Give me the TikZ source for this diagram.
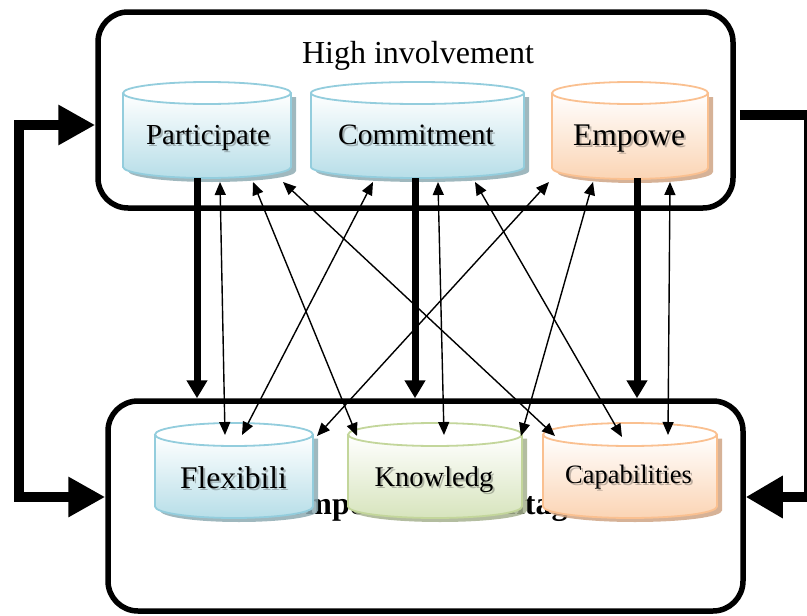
\documentclass[tikz,border=0pt]{standalone}
\usepackage{fontspec}
\setmainfont{Liberation Serif}
\usetikzlibrary{arrows.meta}

% cylinder colours: outline, body, drop shadow
\definecolor{blueline}{HTML}{93CDDD}
\definecolor{bluebody}{HTML}{B7DEE8}
\definecolor{blueshade}{HTML}{8EABB3}
\definecolor{greenline}{HTML}{C3D69B}
\definecolor{greenbody}{HTML}{D7E4BD}
\definecolor{greenshade}{HTML}{A6B28F}
\definecolor{orangeline}{HTML}{FAC090}
\definecolor{orangebody}{HTML}{FBD4B4}
\definecolor{orangeshade}{HTML}{CFA585}

\tikzset{
  frame/.style={draw=black, line width=5.5pt, rounded corners=30pt, inner sep=0pt},
  bracket/.style={line width=10pt, line join=miter},
  feed/.style={line width=7pt, -{Triangle[length=18pt,width=20pt]}},
  link/.style={line width=1.4pt, {Triangle[length=13pt,width=11pt]}-{Triangle[length=13pt,width=11pt]}},
  lbl/.style={anchor=base, inner sep=0pt, text=black},
}

% #1 cx, #2 y of top ellipse centre, #3 x radius, #4 body height, #5 y radius,
% #6 outline colour, #7 body colour, #8 shadow colour
\newcommand\cylshape[8]{%
  \begin{scope}[shift={(#1,#2)}]
    \fill[#8, opacity=0.85] (-#3+5,4) -- (-#3+5,#4+4)
      arc[start angle=180,end angle=360,x radius=#3pt,y radius=#5pt] -- (#3+5,4) -- cycle;
    \shade[top color=white, middle color=#7!45, bottom color=#7] (-#3,0) -- (-#3,#4)
      arc[start angle=180,end angle=360,x radius=#3pt,y radius=#5pt] -- (#3,0) -- cycle;
    \draw[#6, line width=1.8pt] (-#3,0) -- (-#3,#4)
      arc[start angle=180,end angle=360,x radius=#3pt,y radius=#5pt] -- (#3,0);
    \filldraw[fill=white, draw=#6, line width=1.8pt] (0,0) ellipse[x radius=#3pt, y radius=#5pt];
  \end{scope}}

% #1 name, #2 x, #3 baseline y, #4 font size, #5 text (with a soft shadow)
\newcommand\cyllabel[5]{%
  \node[lbl, opacity=0.25, font=\fontsize{#4}{#4}\selectfont] (#1-sh) at (#2+2,#3+2) {#5};
  \node[lbl, font=\fontsize{#4}{#4}\selectfont] (#1) at (#2,#3) {#5};}

\begin{document}
\begin{tikzpicture}[x=1pt,y=-1pt]
\useasboundingbox (0,0) rectangle (807,616);
\clip (0,0) rectangle (807,616);

% the two frames
\node[frame, minimum width=635pt, minimum height=196pt] (high) at (415.5,110) {};
\node[frame, minimum width=635pt, minimum height=210pt] (adv) at (425.5,506) {};

\node[lbl, font=\fontsize{32}{38}\selectfont] (hi) at (418,63) {High involvement};
\node[lbl, font=\bfseries\fontsize{32}{38}\selectfont] (ca) at (424,514) {Competitive advantage};

% cylinders
\cylshape{207}{93}{84}{74}{11}{blueline}{bluebody}{blueshade}
\cylshape{417.5}{93}{106.5}{74}{11}{blueline}{bluebody}{blueshade}
\cylshape{630}{93}{78}{75}{11}{orangeline}{orangebody}{orangeshade}
\cylshape{234}{434.5}{79}{72}{11.5}{blueline}{bluebody}{blueshade}
\cylshape{435}{434.5}{87}{72}{11.5}{greenline}{greenbody}{greenshade}
\cylshape{630}{434.5}{87}{72}{11.5}{orangeline}{orangebody}{orangeshade}

\cyllabel{part}{208}{144}{29}{Participate}
\cyllabel{comm}{416}{144}{29.5}{Commitment}
\cyllabel{empo}{629}{145}{31.5}{Empowe}
\cyllabel{flex}{233.5}{488}{31.5}{Flexibili}
\cyllabel{know}{434}{486}{28.5}{Knowledg}
\cyllabel{capa}{628.5}{483}{26.5}{Capabilities}

% connector ends on the cylinders
\coordinate (part-d) at (197,178);
\coordinate (comm-d) at (415,178);
\coordinate (empo-d) at (637,178);

\coordinate (part-1) at (220,182);
\coordinate (part-2) at (253,182);
\coordinate (part-3) at (283,182);
\coordinate (comm-1) at (373,182);
\coordinate (comm-2) at (438,182);
\coordinate (comm-3) at (475,182);
\coordinate (empo-1) at (549,182);
\coordinate (empo-2) at (593,182);
\coordinate (empo-3) at (670,182);

\coordinate (flex-1) at (225,435);
\coordinate (flex-2) at (242,435);
\coordinate (flex-3) at (317,436);
\coordinate (know-1) at (357,436);
\coordinate (know-2) at (444,435);
\coordinate (know-3) at (521,436);
\coordinate (capa-1) at (555,436);
\coordinate (capa-2) at (622,437);
\coordinate (capa-3) at (668,435);

% heavy arrows from the upper cylinders to the lower frame
\draw[feed] (part-d) -- (part-d |- adv.north);
\draw[feed] (comm-d) -- (comm-d |- adv.north);
\draw[feed] (empo-d) -- (empo-d |- adv.north);

% two-way links
\draw[link] (part-1) -- (flex-1);
\draw[link] (part-2) -- (know-1);
\draw[link] (part-3) -- (capa-1);
\draw[link] (comm-1) -- (flex-2);
\draw[link] (comm-2) -- (know-2);
\draw[link] (comm-3) -- (capa-2);
\draw[link] (empo-1) -- (flex-3);
\draw[link] (empo-2) -- (know-3);
\draw[link] (empo-3) -- (capa-3);

% outer feedback brackets
\coordinate (lb-top) at (19,125);
\coordinate (lb-bot) at (19,497);
\coordinate (rb-top) at (809,115);
\coordinate (rb-bot) at (809,497);
\draw[bracket, {Triangle[length=37pt,width=38pt]}-{Triangle[length=37pt,width=38pt]}]
  ([yshift=-15pt]high.west) -- (lb-top) -- (lb-bot) -- ([yshift=9pt]adv.west);
\draw[bracket, -{Triangle[length=37pt,width=40pt]}]
  ([xshift=4pt,yshift=-5pt]high.east) -- (rb-top) -- (rb-bot) -- ([yshift=9pt]adv.east);
\end{tikzpicture}
\end{document}
